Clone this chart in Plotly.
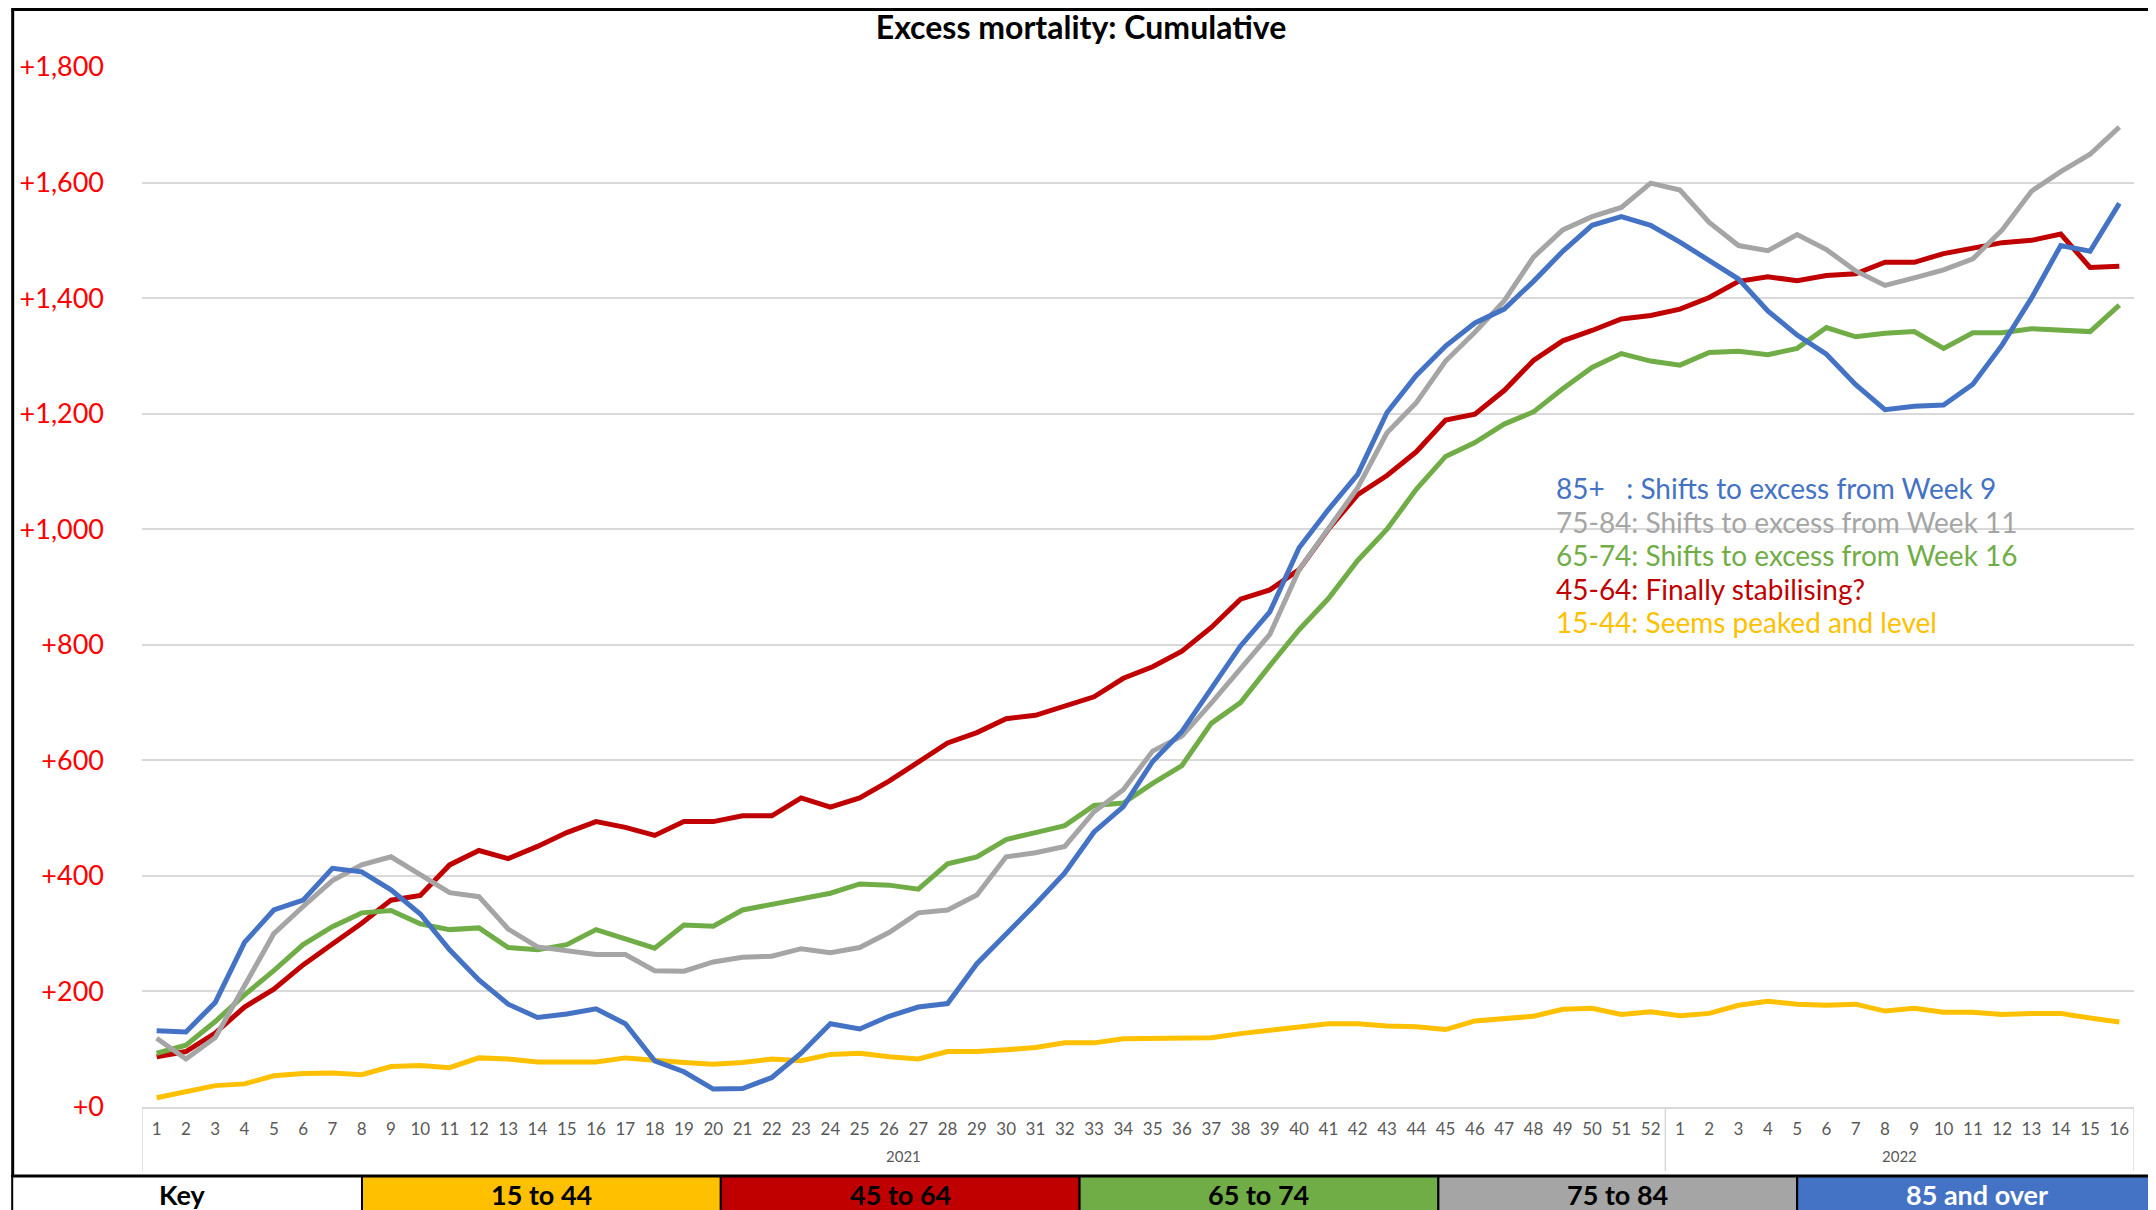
import plotly.graph_objects as go

# ---------------- data ----------------
WEEK_LABELS = [str(w) for w in range(1, 53)] + [str(w) for w in range(1, 17)]
YEAR_LABELS = ["2021", "2022"]
YEAR_SPANS = [(0, 51), (52, 67)]   # first / last category index of each year

AGE_15_44 = [16, 27, 37, 40, 54, 58, 59, 56, 70, 72, 68, 85, 83, 78, 78, 78, 85, 80, 77, 74,
             77, 83, 80, 91, 93, 87, 83, 96, 96, 99, 103, 111, 111, 118, 118, 120, 120, 127, 133, 139,
             144, 144, 140, 139, 134, 149, 152, 157, 169, 171, 160, 165,
             158, 162, 176, 183, 178, 176, 178, 166, 171, 164, 164, 160, 162, 162, 154, 147]

AGE_45_64 = [87, 96, 128, 173, 204, 246, 282, 318, 358, 366, 419, 444, 430, 451, 475, 494, 484, 470, 494, 494,
             504, 504, 535, 519, 535, 564, 597, 630, 648, 672, 678, 694, 710, 742, 762, 789, 830, 879, 895, 930,
             1000, 1060, 1093, 1134, 1189, 1199, 1240, 1292, 1326, 1344, 1364, 1370,
             1381, 1401, 1429, 1437, 1430, 1439, 1442, 1462, 1462, 1477, 1487, 1496, 1500, 1511, 1453, 1455]

AGE_65_74 = [93, 107, 148, 194, 236, 281, 312, 336, 340, 317, 307, 310, 276, 272, 281, 307, 291, 275, 315, 313,
             341, 350, 359, 370, 386, 384, 377, 421, 433, 463, 475, 487, 522, 526, 560, 591, 664, 700, 764, 826,
             880, 946, 1000, 1069, 1126, 1150, 1182, 1203, 1243, 1280, 1304, 1291,
             1284, 1306, 1308, 1302, 1313, 1349, 1333, 1339, 1342, 1313, 1340, 1340, 1347, 1345, 1342, 1388]

AGE_75_84 = [119, 83, 120, 211, 300, 347, 392, 419, 433, 402, 371, 364, 308, 277, 271, 264, 264, 236, 235, 251,
             259, 261, 274, 267, 276, 302, 336, 341, 367, 433, 440, 451, 511, 549, 616, 642, 699, 757, 818, 930,
             1000, 1072, 1167, 1219, 1291, 1341, 1395, 1471, 1518, 1541, 1557, 1599,
             1587, 1531, 1491, 1482, 1510, 1484, 1447, 1422, 1435, 1449, 1468, 1518, 1585, 1619, 1649, 1696]

AGE_85_PLUS = [132, 130, 181, 285, 341, 358, 413, 407, 376, 334, 272, 220, 178, 155, 161, 170, 144, 80, 61, 31,
               32, 51, 93, 144, 135, 157, 173, 179, 248, 298, 351, 405, 476, 520, 598, 650, 724, 798, 857, 968,
               1034, 1095, 1202, 1266, 1317, 1357, 1381, 1429, 1481, 1526, 1541, 1526,
               1497, 1465, 1433, 1378, 1336, 1303, 1250, 1207, 1213, 1215, 1251, 1319, 1400, 1491, 1481, 1564]

SERIES_NAMES = ["15 to 44", "45 to 64", "65 to 74", "75 to 84", "85 and over"]
SERIES_VALUES = [AGE_15_44, AGE_45_64, AGE_65_74, AGE_75_84, AGE_85_PLUS]
SERIES_COLORS = ["#FFC000", "#C00000", "#70AD47", "#A5A5A5", "#4472C4"]

NOTES = ["85+\u00a0\u00a0\u00a0: Shifts to excess from Week 9",
         "75-84: Shifts to excess from Week 11",
         "65-74: Shifts to excess from Week 16",
         "45-64: Finally stabilising?",
         "15-44: Seems peaked and level"]
NOTE_COLORS = ["#4472C4", "#A5A5A5", "#70AD47", "#C00000", "#FFC000"]

KEY_LABELS = ["Key"] + SERIES_NAMES
KEY_FILLS = ["#FFFFFF"] + SERIES_COLORS
KEY_TEXT = ["#000000", "#000000", "#000000", "#000000", "#000000", "#FFFFFF"]

# ---------------- layout geometry ----------------
# page is 2156x1210; the html body has an 8px margin, so the figure is offset by 8px
OFF = 8
PAGE_W, PAGE_H = 2156, 1210
W, H = PAGE_W - OFF, PAGE_H - OFF
# plot area in page pixels
PL, PR, PT, PB = 139, 2134, 67, 1107
L, R, T, B = PL - OFF, PR - OFF, PT - OFF, PB - OFF


def fx(px):  # page x pixel -> paper fraction
    return (px - OFF - L) / (R - L)


def fy(py):  # page y pixel -> paper fraction
    return (B - (py - OFF)) / (B - T)


FONT = "Lato"
X = list(range(len(WEEK_LABELS)))

fig = go.Figure()
for name, vals, col in zip(SERIES_NAMES, SERIES_VALUES, SERIES_COLORS):
    fig.add_trace(go.Scatter(x=X, y=vals, mode="lines", name=name,
                             line=dict(color=col, width=5)))

shapes = []
annotations = []

# year group labels and dividers
for lab, (a, b) in zip(YEAR_LABELS, YEAR_SPANS):
    annotations.append(dict(x=(a + b) / 2, y=fy(1156), xref="x", yref="paper",
                            text=lab, showarrow=False, xanchor="center", yanchor="middle",
                            font=dict(family=FONT, size=15, color="#595959")))
divs = [YEAR_SPANS[0][0] - 0.5] + [b + 0.5 for (_, b) in YEAR_SPANS]
for d in divs:
    shapes.append(dict(type="line", xref="x", yref="paper", x0=d, x1=d,
                       y0=0, y1=fy(1171), line=dict(color="#D9D9D9", width=1.5)))

# notes
for i, (txt, col) in enumerate(zip(NOTES, NOTE_COLORS)):
    annotations.append(dict(x=fx(1553), y=fy(488 + 33.6 * i), xref="paper", yref="paper",
                            text=txt, showarrow=False, xanchor="left", yanchor="middle",
                            font=dict(family=FONT, size=28, color=col)))

# outer border (top and left)
shapes.append(dict(type="line", xref="paper", yref="paper",
                   x0=fx(OFF), x1=fx(PAGE_W), y0=fy(9.5), y1=fy(9.5),
                   line=dict(color="black", width=3), layer="above"))
shapes.append(dict(type="line", xref="paper", yref="paper",
                   x0=fx(9.5), x1=fx(9.5), y0=fy(9.5), y1=fy(1176),
                   line=dict(color="black", width=3), layer="above"))

# key row
cw = PAGE_W / 6
for i, (lab, fill, tc) in enumerate(zip(KEY_LABELS, KEY_FILLS, KEY_TEXT)):
    x0 = max(i * cw, 9)
    x1 = (i + 1) * cw
    shapes.append(dict(type="rect", xref="paper", yref="paper",
                       x0=fx(x0), x1=fx(x1), y0=fy(1215), y1=fy(1176),
                       fillcolor=fill, line=dict(color="black", width=2), layer="above"))
    annotations.append(dict(x=fx((i + 0.5) * cw), y=fy(1194), xref="paper", yref="paper",
                            text="<b>" + lab + "</b>", showarrow=False,
                            xanchor="center", yanchor="middle",
                            font=dict(family=FONT, size=27, color=tc)))
shapes.append(dict(type="line", xref="paper", yref="paper", x0=fx(OFF), x1=fx(PAGE_W),
                   y0=fy(1176), y1=fy(1176), line=dict(color="black", width=3), layer="above"))

fig.update_layout(
    width=W, height=H,
    margin=dict(l=L, r=W - R, t=T, b=H - B),
    paper_bgcolor="white", plot_bgcolor="white",
    showlegend=False,
    title=dict(text="<b>Excess mortality: Cumulative</b>", x=(1081 - OFF) / W, xref="container",
               xanchor="center", y=1 - (28 - OFF) / H, yref="container", yanchor="middle",
               font=dict(family=FONT, size=32, color="black")),
    xaxis=dict(range=[-0.5, len(X) - 0.5], tickmode="array", tickvals=X, ticktext=WEEK_LABELS,
               tickfont=dict(family=FONT, size=17, color="#595959"), showgrid=False,
               showline=True, linecolor="#D9D9D9", linewidth=1.5, ticks="", zeroline=False,
               ticklabelstandoff=6, fixedrange=True),
    yaxis=dict(range=[0, 1800], dtick=200, tickformat="+,",
               tickfont=dict(family=FONT, size=27, color="#FF0000"),
               gridcolor="#D9D9D9", gridwidth=1.5, zeroline=False, showline=False,
               ticks="", ticklabelstandoff=37, fixedrange=True),
    shapes=shapes, annotations=annotations,
)

fig.write_html("out.html")
